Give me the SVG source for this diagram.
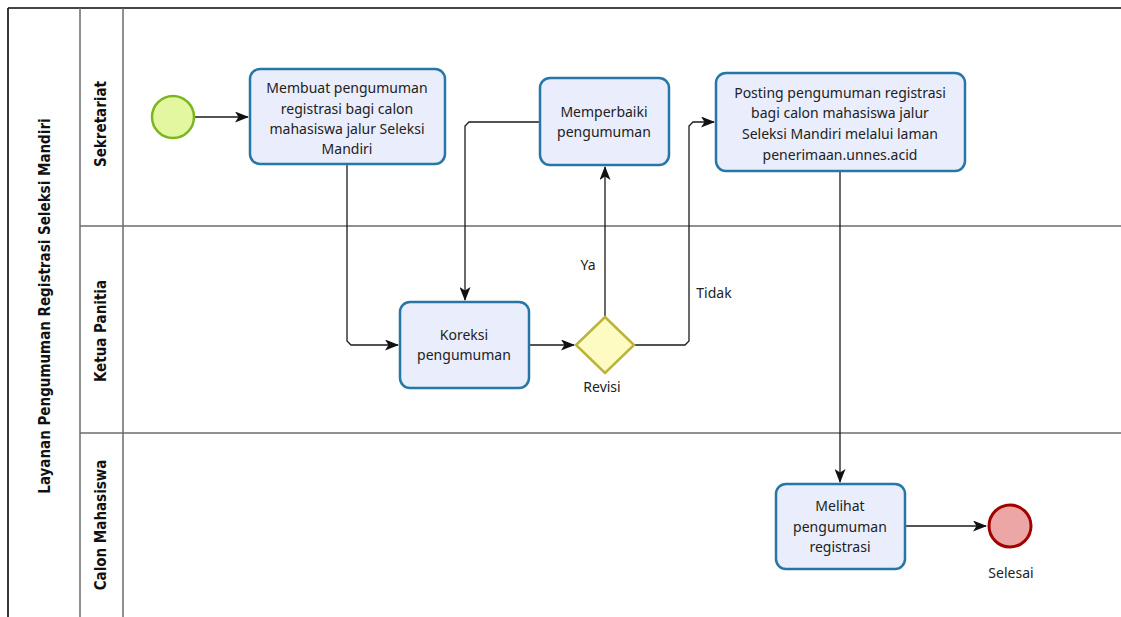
<svg xmlns="http://www.w3.org/2000/svg" width="1121" height="617" viewBox="0 0 1121 617">
<style>
.lane{stroke:#6b6b6b;stroke-width:1.5;fill:none}
.task{fill:#eaedfb;stroke:#2677a6;stroke-width:2.5}
.t{font-family:"Noto Sans","Open Sans",sans-serif;font-size:14px;fill:#222;text-anchor:middle}
.lbl{font-family:"Noto Sans","Open Sans",sans-serif;font-size:14px;fill:#222;text-anchor:middle}
.hd{font-family:"DejaVu Sans Condensed","DejaVu Sans",sans-serif;font-weight:bold;font-size:15px;fill:#111;text-anchor:middle}
.c{fill:none;stroke:#1a1a1a;stroke-width:1.3}
</style>
<defs>
<marker id="arr" viewBox="0 0 14 11" markerWidth="14" markerHeight="11" refX="13" refY="5.5" orient="auto" markerUnits="userSpaceOnUse">
<path d="M0,0 L14,5.5 L0,11 L3.5,5.5 Z" fill="#111"/>
</marker>
</defs>
<rect width="1121" height="617" fill="#fff"/>
<g id="pool">
<line x1="8" y1="8" x2="1121" y2="8" stroke="#444" stroke-width="2"/>
<line x1="8" y1="8" x2="8" y2="617" stroke="#222" stroke-width="1.8"/>
<line class="lane" x1="80" y1="8" x2="80" y2="617"/>
<line class="lane" x1="123" y1="8" x2="123" y2="617"/>
<line class="lane" x1="80" y1="226" x2="1121" y2="226"/>
<line class="lane" x1="80" y1="433" x2="1121" y2="433"/>
<text class="hd" transform="translate(50,306) rotate(-90)">Layanan Pengumuman Registrasi Seleksi Mandiri</text>
<text class="hd" transform="translate(106,124) rotate(-90)">Sekretariat</text>
<text class="hd" transform="translate(106,331) rotate(-90)">Ketua Panitia</text>
<text class="hd" transform="translate(106,525) rotate(-90)">Calon Mahasiswa</text>
</g>
<g id="connectors">
<path class="c" d="M194,117 L248,117" marker-end="url(#arr)"/>
<path class="c" d="M347,164 L347,341 L351,345 L398,345" marker-end="url(#arr)"/>
<path class="c" d="M540,122 L469,122 L465,126 L465,300" marker-end="url(#arr)"/>
<path class="c" d="M529,345 L574,345" marker-end="url(#arr)"/>
<path class="c" d="M605,317 L605,167" marker-end="url(#arr)"/>
<path class="c" d="M634,345 L685,345 L689,341 L689,126 L693,122 L714,122" marker-end="url(#arr)"/>
<path class="c" d="M840,171 L840,482" marker-end="url(#arr)"/>
<path class="c" d="M905,526 L986,526" marker-end="url(#arr)"/>
<text class="lbl" x="588" y="270">Ya</text>
<text class="lbl" x="714" y="298">Tidak</text>
</g>
<g id="start">
<circle cx="173" cy="117" r="21" fill="#e2f7a0" stroke="#7bb51f" stroke-width="2.5"/>
</g>
<g id="task-membuat">
<rect class="task" x="250" y="69" width="195" height="95" rx="10"/>
<text class="t" x="347" y="93">Membuat pengumuman</text>
<text class="t" x="347" y="114">registrasi bagi calon</text>
<text class="t" x="347" y="134">mahasiswa jalur Seleksi</text>
<text class="t" x="347" y="154">Mandiri</text>
</g>
<g id="task-memperbaiki">
<rect class="task" x="540" y="78" width="129" height="87" rx="10"/>
<text class="t" x="604" y="117">Memperbaiki</text>
<text class="t" x="604" y="137">pengumuman</text>
</g>
<g id="task-posting">
<rect class="task" x="716" y="73" width="249" height="98" rx="10"/>
<text class="t" x="840" y="98">Posting pengumuman registrasi</text>
<text class="t" x="840" y="118">bagi calon mahasiswa jalur</text>
<text class="t" x="840" y="139">Seleksi Mandiri melalui laman</text>
<text class="t" x="840" y="160">penerimaan.unnes.acid</text>
</g>
<g id="task-koreksi">
<rect class="task" x="400" y="302" width="129" height="86" rx="10"/>
<text class="t" x="464" y="340">Koreksi</text>
<text class="t" x="464" y="360">pengumuman</text>
</g>
<g id="gateway-revisi">
<polygon points="605,317 634,345 605,373 576,345" fill="#fdfbc2" stroke="#b9b43b" stroke-width="2.5"/>
<text class="lbl" x="602" y="392">Revisi</text>
</g>
<g id="task-melihat">
<rect class="task" x="776" y="484" width="129" height="85" rx="10"/>
<text class="t" x="840" y="511">Melihat</text>
<text class="t" x="840" y="532">pengumuman</text>
<text class="t" x="840" y="552">registrasi</text>
</g>
<g id="end">
<circle cx="1010" cy="526" r="21" fill="#eca6a6" stroke="#a30000" stroke-width="3"/>
<text class="lbl" x="1011" y="578">Selesai</text>
</g>
</svg>
